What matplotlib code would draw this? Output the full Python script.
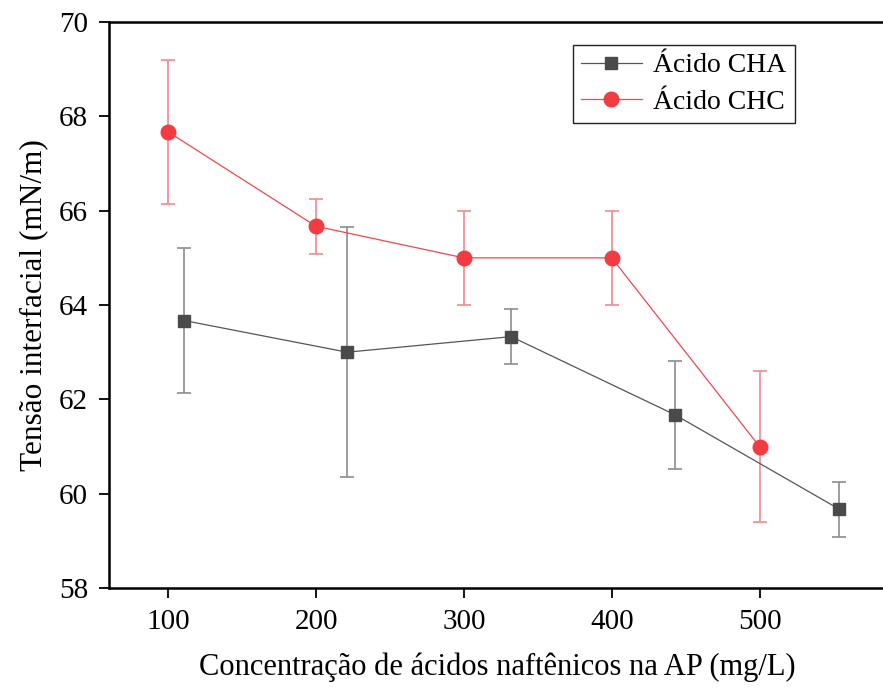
import matplotlib
matplotlib.use("Agg")
import matplotlib.pyplot as plt

plt.rcParams['font.family'] = ['Liberation Serif', 'DejaVu Serif']

# Tensão interfacial x concentração de ácidos naftênicos
conc_cha = [111, 221, 332, 443, 554]
tensao_cha = [63.67, 63.0, 63.33, 61.67, 59.67]
erro_cha = [1.53, 2.65, 0.58, 1.15, 0.58]

conc_chc = [100, 200, 300, 400, 500]
tensao_chc = [67.67, 65.67, 65.0, 65.0, 61.0]
erro_chc = [1.53, 0.58, 1.0, 1.0, 1.6]

xticks = [100, 200, 300, 400, 500]
yticks = [58, 60, 62, 64, 66, 68, 70]

fig = plt.figure(figsize=(8.83, 6.88), dpi=100)
ax = fig.add_axes([0.1235, 0.1453, 0.879, 0.8227])

ax.errorbar(conc_cha, tensao_cha, yerr=erro_cha, fmt='none', ecolor='#8c8c8c',
            elinewidth=1.2, capsize=5, capthick=1.2, zorder=2)
ax.plot(conc_cha, tensao_cha, color='#555555', lw=0.9, marker='s', ms=9,
        mfc='#4a4a4a', mec='#4a4a4a', label='Ácido CHA', zorder=3)

ax.errorbar(conc_chc, tensao_chc, yerr=erro_chc, fmt='none', ecolor='#f28a8e',
            elinewidth=1.2, capsize=5, capthick=1.2, zorder=2)
ax.plot(conc_chc, tensao_chc, color='#f0474c', lw=0.9, marker='o', ms=10.5,
        mfc='#f23c42', mec='#f23c42', label='Ácido CHC', zorder=3)

ax.set_xlim(60, 585)
ax.set_ylim(58, 70)
ax.set_xticks(xticks)
ax.set_yticks(yticks)
ax.tick_params(direction='out', length=7, width=1.3, labelsize=21, pad=8)
for s in ax.spines.values():
    s.set_linewidth(1.8)

ax.set_xlabel('Concentração de ácidos naftênicos na AP (mg/L)', fontsize=22, labelpad=13)
ax.set_ylabel('Tensão interfacial (mN/m)', fontsize=22.5, labelpad=8)

leg = ax.legend(loc='upper right', bbox_to_anchor=(0.9, 0.935),
                bbox_transform=fig.transFigure, borderaxespad=0, fontsize=20,
                fancybox=False, edgecolor='#222222', framealpha=1,
                handlelength=2.2, handletextpad=0.4, borderpad=0.3, labelspacing=0.4)
leg.get_frame().set_linewidth(1.0)

fig.savefig('out.png', dpi=100)
